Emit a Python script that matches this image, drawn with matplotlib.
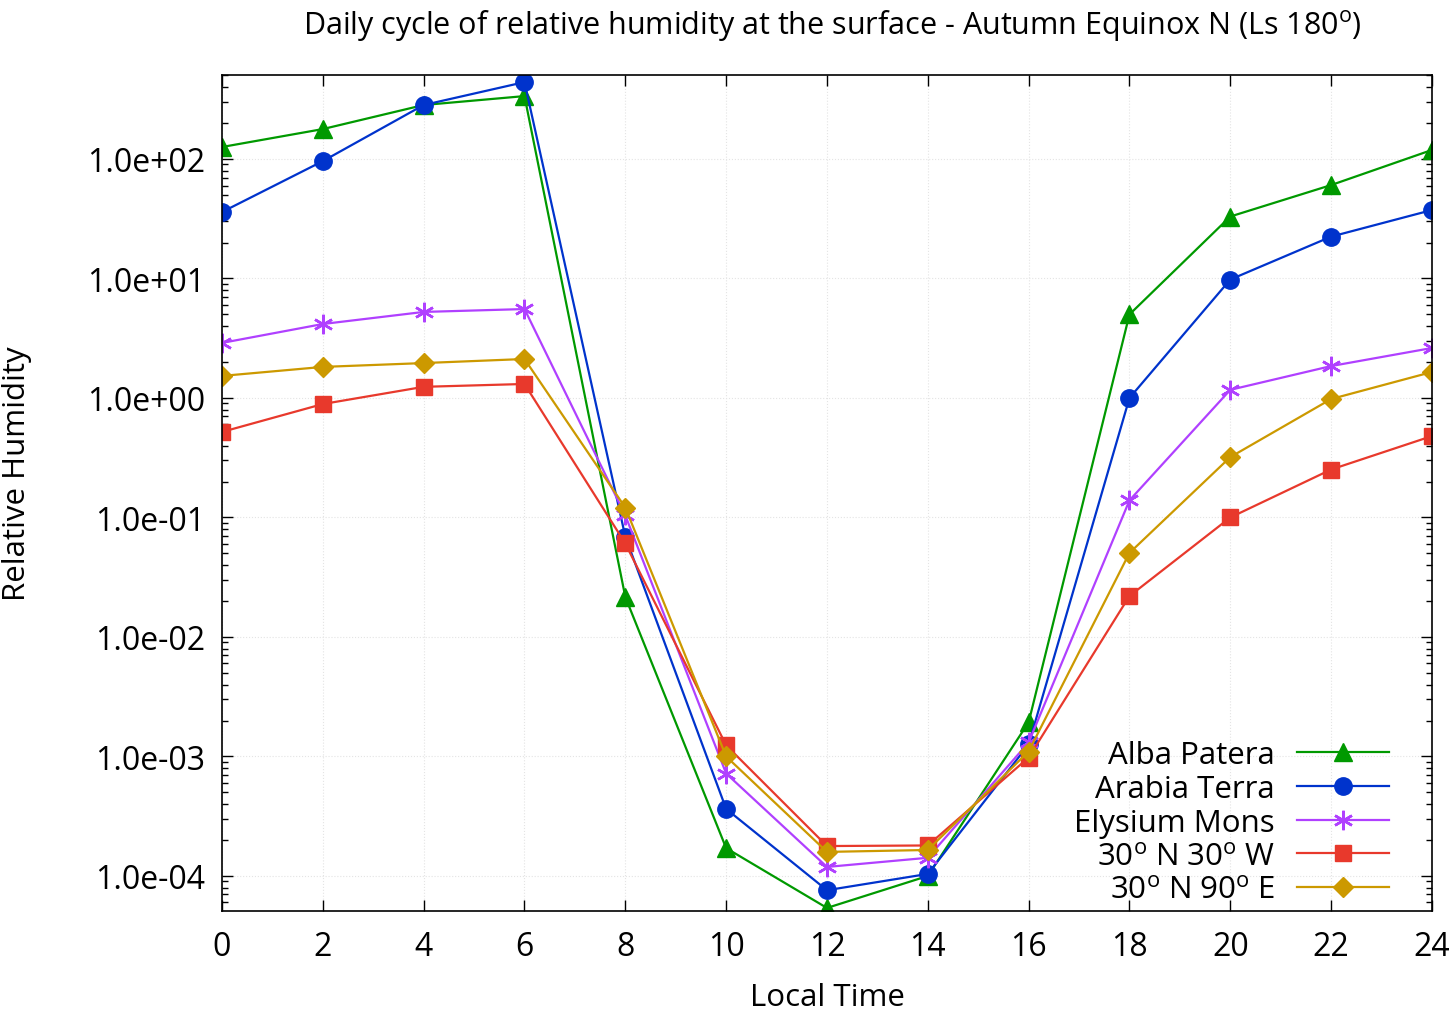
import matplotlib
matplotlib.use("Agg")
import matplotlib.pyplot as plt
from matplotlib.ticker import FuncFormatter, LogLocator, MultipleLocator
import numpy as np

plt.rcParams['font.family'] = ['Open Sans', 'DejaVu Sans']
plt.rcParams['mathtext.fontset'] = 'custom'
plt.rcParams['mathtext.rm'] = 'Open Sans'

hours = [0, 2, 4, 6, 8, 10, 12, 14, 16, 18, 20, 22, 24]

alba_patera = [126, 178, 283, 336, 0.0216, 1.71e-4, 5.4e-5, 1.0e-4, 1.93e-3, 5.0, 33, 60.5, 119]
arabia_terra = [36, 96, 283, 440, 0.069, 3.64e-4, 7.6e-5, 1.04e-4, 1.26e-3, 1.0, 9.8, 22.4, 37.4]
elysium_mons = [2.89, 4.16, 5.25, 5.55, 0.104, 7.2e-4, 1.19e-4, 1.42e-4, 1.31e-3, 0.139, 1.17, 1.85, 2.62]
n30_w30 = [0.52, 0.89, 1.24, 1.31, 0.0606, 1.24e-3, 1.78e-4, 1.8e-4, 9.8e-4, 0.022, 0.1, 0.252, 0.48]
n30_e90 = [1.53, 1.82, 1.96, 2.12, 0.121, 1.0e-3, 1.59e-4, 1.65e-4, 1.1e-3, 0.0505, 0.32, 0.98, 1.65]

labels = ['Alba Patera', 'Arabia Terra', 'Elysium Mons',
          r'30$^{\mathrm{o}}$ N 30$^{\mathrm{o}}$ W', r'30$^{\mathrm{o}}$ N 90$^{\mathrm{o}}$ E']
series = [alba_patera, arabia_terra, elysium_mons, n30_w30, n30_e90]
colors = ['#009900', '#0033cc', '#b040ff', '#e8392c', '#cc9900']
markers = ['^', 'o', '*', 's', 'D']
msizes = [13, 12.5, 14, 11, 10]

fig = plt.figure(figsize=(14.53, 10.20), dpi=100)
ax = fig.add_axes([0.1528, 0.1059, 0.8327, 0.8196])

for vals, lab, c, m, ms in zip(series, labels, colors, markers, msizes):
    if m == '*':
        ax.plot(hours, vals, color=c, lw=1.6, marker=(6, 2, 0), ms=ms, mew=1.8,
                mec=c, label=lab)
    else:
        ax.plot(hours, vals, color=c, lw=1.6, marker=m, ms=ms, mec=c, mfc=c, label=lab)

ax.set_yscale('log')
ax.set_xlim(0, 24)
ax.set_ylim(10**-4.293, 10**2.703)
ax.xaxis.set_major_locator(MultipleLocator(2))
ax.yaxis.set_major_locator(LogLocator(base=10, numticks=20))
ax.yaxis.set_minor_locator(LogLocator(base=10, subs=np.arange(2, 10), numticks=20))
ax.yaxis.set_major_formatter(FuncFormatter(lambda v, p: ('%.1e' % v)))
ax.yaxis.set_minor_formatter(FuncFormatter(lambda v, p: ''))

ax.tick_params(which='both', direction='in', top=True, right=True, labelsize=23)
ax.tick_params(which='major', length=8, width=1)
ax.tick_params(which='minor', length=4, width=1)
ax.tick_params(axis='x', pad=14)
ax.tick_params(axis='y', pad=12)
for s in ax.spines.values():
    s.set_linewidth(1.2)

ax.grid(True, which='major', color='#e4e4e4', linestyle=':', linewidth=0.8)

ax.set_xlabel('Local Time', fontsize=22.5)
ax.set_ylabel('Relative Humidity', fontsize=22.5)
ax.xaxis.set_label_coords(0.5, -0.085)
ax.yaxis.set_label_coords(-0.157, 0.524)
fig.text(0.573, 0.992, r'Daily cycle of relative humidity at the surface - Autumn Equinox N (Ls 180$^{\mathrm{o}}$)',
         ha='center', va='top', fontsize=22)

leg = ax.legend(loc='lower right', frameon=False, markerfirst=False, fontsize=22.5,
                handlelength=2.95, handletextpad=0.7, labelspacing=0.12,
                borderaxespad=0.0, bbox_to_anchor=(0.975, -0.008))

fig.savefig('out.png', dpi=100)
